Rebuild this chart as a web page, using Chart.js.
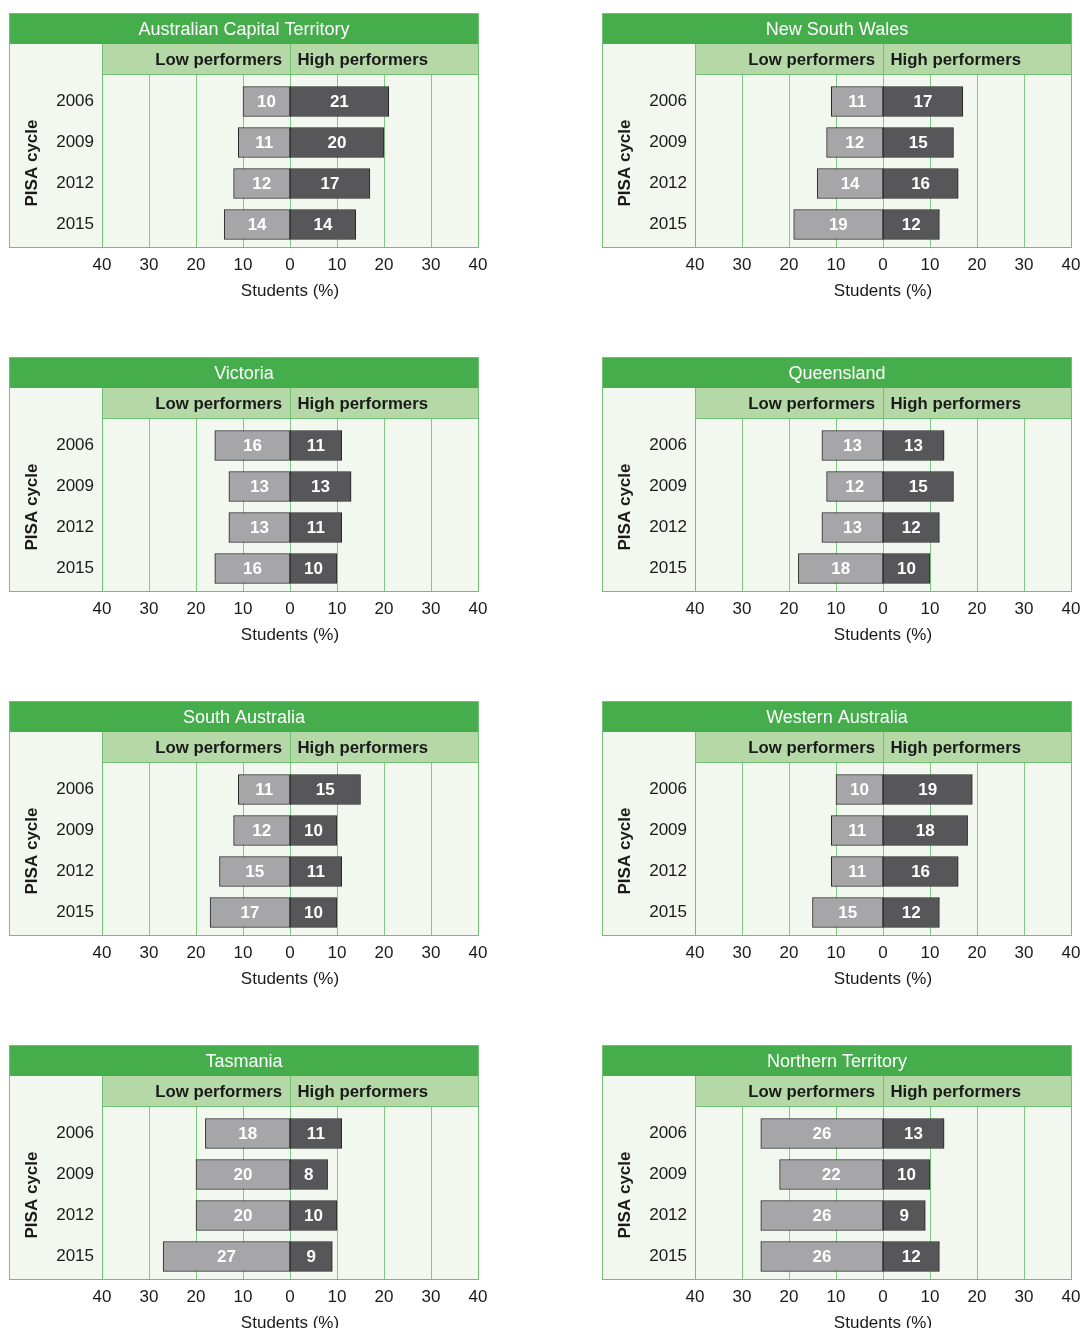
<!DOCTYPE html>
<html>
<head>
<meta charset="utf-8">
<script src="https://cdn.jsdelivr.net/npm/chart.js@4/dist/chart.umd.min.js"></script>
<style>
  html, body { margin: 0; padding: 0; background: #fff; overflow: hidden; }
  #page { position: relative; width: 1083px; height: 1328px; }
  .panel { position: absolute; width: 490px; height: 330px; }
</style>
</head>
<body>
<div id="page"></div>
<script>
// ===============================
// DATA
// ===============================
const years = ["2006", "2009", "2012", "2015"];
const tickValues = [-40, -30, -20, -10, 0, 10, 20, 30, 40];

const regions = [
  "Australian Capital Territory", "New South Wales",
  "Victoria", "Queensland",
  "South Australia", "Western Australia",
  "Tasmania", "Northern Territory"
];

const lowACT = [10, 11, 12, 14];
const highACT = [21, 20, 17, 14];
const lowNSW = [11, 12, 14, 19];
const highNSW = [17, 15, 16, 12];
const lowVIC = [16, 13, 13, 16];
const highVIC = [11, 13, 11, 10];
const lowQLD = [13, 12, 13, 18];
const highQLD = [13, 15, 12, 10];
const lowSA = [11, 12, 15, 17];
const highSA = [15, 10, 11, 10];
const lowWA = [10, 11, 11, 15];
const highWA = [19, 18, 16, 12];
const lowTAS = [18, 20, 20, 27];
const highTAS = [11, 8, 10, 9];
const lowNT = [26, 22, 26, 26];
const highNT = [13, 10, 9, 12];

const lowSeries = [lowACT, lowNSW, lowVIC, lowQLD, lowSA, lowWA, lowTAS, lowNT];
const highSeries = [highACT, highNSW, highVIC, highQLD, highSA, highWA, highTAS, highNT];

// ===============================
// STYLE
// ===============================
const FONT = "'Liberation Sans', Arial, Helvetica, sans-serif";
const titleGreen = "#45ad4c";
const headerGreen = "#b5d8a7";
const plotBg = "#f2f7ef";
const gridGreen = "#80c982";
const borderGreen = "#72c074";
const lowFill = "#a6a6a8";
const highFill = "#57575a";
const barBorder = "#262626";

// panel frame (local canvas coords)
const FR = { left: 9, right: 479, top: 13, titleBottom: 44, headBottom: 74, bottom: 248, divider: 102 };

// ===============================
// PLUGINS
// ===============================
const panelFrame = {
  id: "panelFrame",
  beforeDraw(chart) {
    const { ctx } = chart;
    const xs = chart.scales.x;
    const zero = Math.round(xs.getPixelForValue(0)) + 0.5;

    ctx.save();

    // backgrounds
    ctx.fillStyle = plotBg;
    ctx.fillRect(FR.left, FR.titleBottom, FR.right - FR.left, FR.bottom - FR.titleBottom);
    ctx.fillStyle = titleGreen;
    ctx.fillRect(FR.left, FR.top, FR.right - FR.left, FR.titleBottom - FR.top);
    ctx.fillStyle = headerGreen;
    ctx.fillRect(FR.divider, FR.titleBottom, FR.right - FR.divider, FR.headBottom - FR.titleBottom);

    // grid lines
    ctx.strokeStyle = gridGreen;
    ctx.lineWidth = 1;
    tickValues.forEach(v => {
      const px = Math.round(xs.getPixelForValue(v)) + 0.5;
      ctx.beginPath();
      ctx.moveTo(px, FR.headBottom);
      ctx.lineTo(px, FR.bottom);
      ctx.stroke();
    });

    // header divider + lines
    ctx.strokeStyle = borderGreen;
    ctx.beginPath();
    ctx.moveTo(zero, FR.titleBottom);
    ctx.lineTo(zero, FR.headBottom);
    ctx.moveTo(FR.divider + 0.5, FR.titleBottom);
    ctx.lineTo(FR.divider + 0.5, FR.bottom);
    ctx.moveTo(FR.divider, FR.headBottom + 0.5);
    ctx.lineTo(FR.right, FR.headBottom + 0.5);
    ctx.stroke();

    // outer border
    ctx.strokeStyle = borderGreen;
    ctx.strokeRect(FR.left + 0.5, FR.top + 0.5, FR.right - FR.left - 1, FR.bottom - FR.top - 1);

    // title text
    ctx.fillStyle = "#ffffff";
    ctx.font = "18px " + FONT;
    ctx.textAlign = "center";
    ctx.textBaseline = "middle";
    ctx.fillText(chart.options.plugins.panelFrame.title, (FR.left + FR.right) / 2, 30);

    // header text
    ctx.fillStyle = "#1a1a1a";
    ctx.font = "bold 16.8px " + FONT;
    ctx.textAlign = "right";
    ctx.fillText("Low performers", zero - 8.5, 60);
    ctx.textAlign = "left";
    ctx.fillText("High performers", zero + 7, 60);

    ctx.restore();
  }
};

const barValues = {
  id: "barValues",
  afterDatasetsDraw(chart) {
    const { ctx } = chart;
    ctx.save();
    ctx.fillStyle = "#ffffff";
    ctx.font = "bold 17px " + FONT;
    ctx.textAlign = "center";
    ctx.textBaseline = "middle";
    chart.data.datasets.forEach((ds, i) => {
      chart.getDatasetMeta(i).data.forEach((bar, j) => {
        const cx = (bar.x + bar.base) / 2;
        ctx.fillText(String(Math.abs(ds.data[j])), cx, bar.y + 1);
      });
    });
    ctx.restore();
  }
};

// ===============================
// BUILD PANELS
// ===============================
const page = document.getElementById("page");
const colLeft = [0, 593];
const rowTop = [0, 344, 688, 1032];

regions.forEach((name, idx) => {
  const div = document.createElement("div");
  div.className = "panel";
  div.style.left = colLeft[idx % 2] + "px";
  div.style.top = rowTop[Math.floor(idx / 2)] + "px";
  const canvas = document.createElement("canvas");
  canvas.width = 490;
  canvas.height = 330;
  div.appendChild(canvas);
  page.appendChild(div);

  new Chart(canvas, {
    type: "bar",
    data: {
      labels: years,
      datasets: [
        {
          label: "Low performers",
          data: lowSeries[idx].map(v => -v),
          backgroundColor: lowFill,
          borderColor: barBorder,
          borderWidth: 1,
          borderSkipped: false,
          barThickness: 30
        },
        {
          label: "High performers",
          data: highSeries[idx],
          backgroundColor: highFill,
          borderColor: barBorder,
          borderWidth: 1,
          borderSkipped: false,
          barThickness: 30
        }
      ]
    },
    options: {
      indexAxis: "y",
      responsive: false,
      animation: false,
      events: [],
      layout: { padding: { left: 9, right: 12, top: 81, bottom: 25 } },
      scales: {
        x: {
          type: "linear",
          stacked: true,
          min: -40,
          max: 40,
          afterBuildTicks(s) { s.ticks = tickValues.map(v => ({ value: v })); },
          afterFit(s) {
            s.height = 60;
            s.paddingLeft = 0;
            s.paddingRight = 0;
          },
          grid: { display: false, drawTicks: false },
          border: { display: false },
          ticks: {
            padding: 10,
            color: "#1a1a1a",
            font: { family: FONT, size: 17 },
            callback: v => Math.abs(v)
          },
          title: {
            display: true,
            text: "Students (%)",
            color: "#1a1a1a",
            font: { family: FONT, size: 17 },
            padding: { top: 0, bottom: 3 }
          }
        },
        y: {
          stacked: true,
          afterFit(s) { s.width = 93; },
          grid: { display: false, drawTicks: false },
          border: { display: false },
          ticks: {
            padding: 8,
            color: "#1a1a1a",
            font: { family: FONT, size: 17 }
          },
          title: {
            display: true,
            text: "PISA cycle",
            color: "#1a1a1a",
            font: { family: FONT, size: 17, weight: "bold" },
            padding: { top: 13, bottom: 0 }
          }
        }
      },
      plugins: {
        legend: { display: false },
        tooltip: { enabled: false },
        panelFrame: { title: name }
      }
    },
    plugins: [panelFrame, barValues]
  });
});
</script>
</body>
</html>
